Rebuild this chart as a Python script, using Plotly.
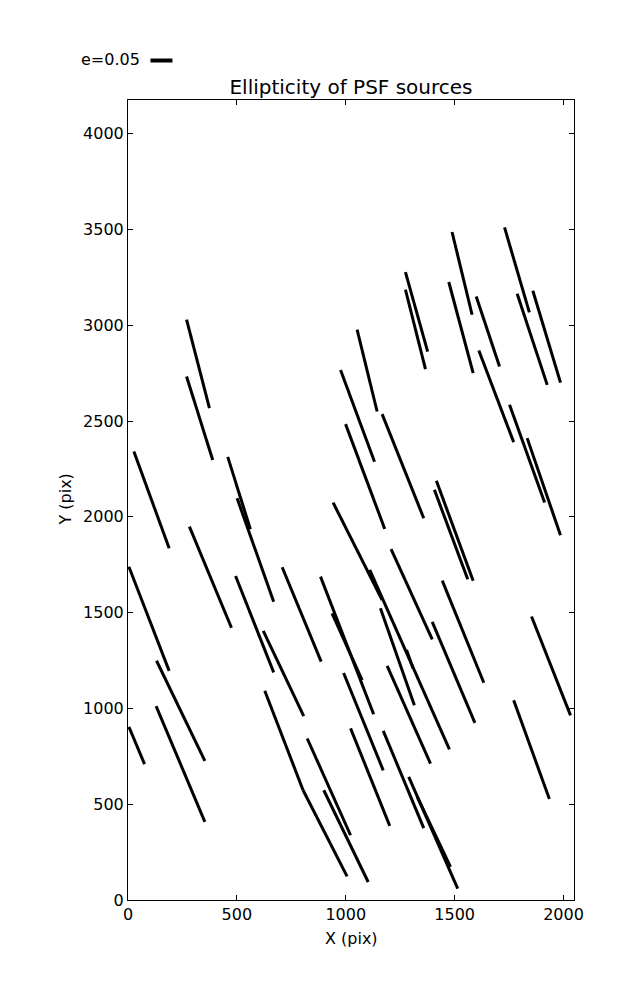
import plotly.graph_objects as go

# Whisker endpoints (data coordinates, pixels of the detector)
x_start = [4, 4, 27, 131, 129, 269, 269, 282, 458, 501, 494, 621, 628, 708, 804, 823,
           884, 937, 899, 942, 1110, 1279, 976, 999, 990, 1052, 1022, 1167, 1208, 1159,
           1190, 1172, 1289, 1328, 1274, 1274, 1416, 1407, 1443, 1397, 1488, 1473, 1599,
           1611, 1729, 1787, 1859, 1752, 1833, 1853, 1771]
y_start = [1740, 904, 2341, 1249, 1012, 3029, 2733, 1949, 2313, 2097, 1691, 1405, 1092, 1737, 573, 843,
           1688, 1496, 573, 2074, 1723, 1305, 2767, 2484, 1185, 2977, 896, 2536, 1832, 1523,
           1222, 883, 643, 539, 3278, 3186, 2188, 2141, 1667, 1452, 3487, 3226, 3150,
           2868, 3511, 3165, 3180, 2585, 2411, 1480, 1043]
x_end = [189, 76, 189, 353, 353, 374, 389, 475, 562, 669, 669, 807, 804, 887, 1006, 1022,
         1128, 1075, 1103, 1167, 1476, 1309, 1132, 1179, 1172, 1144, 1202, 1358, 1397, 1315,
         1389, 1358, 1514, 1481, 1376, 1366, 1585, 1560, 1634, 1593, 1580, 1585, 1706,
         1771, 1843, 1925, 1986, 1913, 1986, 2032, 1935]
y_end = [1196, 709, 1836, 726, 408, 2567, 2297, 1421, 1935, 1557, 1188, 960, 573, 1244, 123, 338,
         970, 1148, 94, 1566, 786, 1210, 2288, 1937, 677, 2550, 387, 1993, 1360, 1017,
         712, 375, 59, 173, 2863, 2771, 1667, 1674, 1134, 925, 3055, 2750, 2785,
         2390, 3067, 2689, 2701, 2075, 1904, 964, 527]

x_ticks = [0, 500, 1000, 1500, 2000]
y_ticks = [0, 500, 1000, 1500, 2000, 2500, 3000, 3500, 4000]
x_range = [0, 2048]
y_range = [0, 4176]

title = "Ellipticity of PSF sources"
x_label = "X (pix)"
y_label = "Y (pix)"
key_label = "e=0.05"

xs, ys = [], []
for a, b, c, d in zip(x_start, y_start, x_end, y_end):
    xs += [a, c, None]
    ys += [b, d, None]

FONT = "DejaVu Sans"
fig = go.Figure()
fig.add_trace(go.Scatter(x=xs, y=ys, mode="lines",
                         line=dict(color="black", width=3),
                         showlegend=False, hoverinfo="skip"))

# page body has an 8px default margin; compensate so screen positions match
OFF = 8
W, H = 637 - OFF, 1000 - OFF
L, R, T, B = 119.5, 63, 92, 100
pw, ph = W - L - R, H - T - B

def px_to_paper_x(px):
    return (px - OFF - L) / pw

def px_to_paper_y(py):
    return (H - B - (py - OFF)) / ph

axis_common = dict(showline=True, linecolor="black", linewidth=1, mirror="ticks",
                   ticks="inside", ticklen=5, tickwidth=1, tickcolor="black",
                   showgrid=False, zeroline=False,
                   tickfont=dict(family=FONT, size=16, color="black"))

fig.update_xaxes(range=x_range, tickvals=x_ticks, ticktext=[str(v) for v in x_ticks],
                 ticklabelstandoff=0, **axis_common)
fig.update_yaxes(range=y_range, tickvals=y_ticks, ticktext=[str(v) for v in y_ticks],
                 ticklabelstandoff=0, **axis_common)

fig.update_layout(
    width=W, height=H,
    margin=dict(l=L, r=R, t=T, b=B, pad=0),
    plot_bgcolor="white", paper_bgcolor="white",
    font=dict(family=FONT, size=16, color="black"),
    title=dict(text=title, x=(351 - OFF) / W, xanchor="center",
               y=1 - (87 - OFF) / H, yanchor="middle",
               font=dict(family=FONT, size=20, color="black")),
)

# axis titles
fig.add_annotation(text=x_label, xref="paper", yref="paper",
                   x=0.5, y=px_to_paper_y(938), xanchor="center", yanchor="middle",
                   showarrow=False, font=dict(family=FONT, size=16, color="black"))
fig.add_annotation(text=y_label, xref="paper", yref="paper",
                   x=px_to_paper_x(64), y=0.5, xanchor="center", yanchor="middle",
                   textangle=-90, showarrow=False,
                   font=dict(family=FONT, size=16, color="black"))

# key (legend) for ellipticity scale
fig.add_annotation(text=key_label, xref="paper", yref="paper",
                   x=px_to_paper_x(142), y=px_to_paper_y(60), xanchor="right", yanchor="middle",
                   showarrow=False, font=dict(family=FONT, size=16, color="black"))
fig.add_shape(type="line", xref="paper", yref="paper",
              x0=px_to_paper_x(150), x1=px_to_paper_x(172),
              y0=px_to_paper_y(60.5), y1=px_to_paper_y(60.5),
              line=dict(color="black", width=4))

fig.write_html("out.html")
